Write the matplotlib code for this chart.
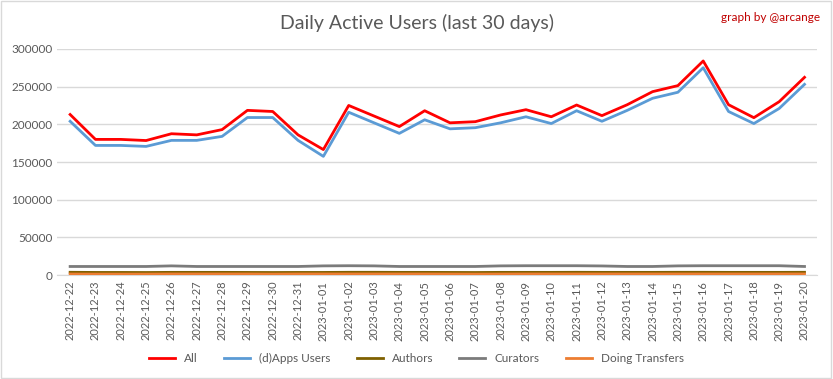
import matplotlib.pyplot as plt
import numpy as np

dates = ["2022-12-22", "2022-12-23", "2022-12-24", "2022-12-25", "2022-12-26", "2022-12-27",
         "2022-12-28", "2022-12-29", "2022-12-30", "2022-12-31", "2023-01-01", "2023-01-02",
         "2023-01-03", "2023-01-04", "2023-01-05", "2023-01-06", "2023-01-07", "2023-01-08",
         "2023-01-09", "2023-01-10", "2023-01-11", "2023-01-12", "2023-01-13", "2023-01-14",
         "2023-01-15", "2023-01-16", "2023-01-17", "2023-01-18", "2023-01-19", "2023-01-20"]

all_users = [213000, 180000, 180000, 178500, 187500, 186000, 193000, 218500, 217000, 186000,
             166500, 225000, 211000, 197000, 218000, 202000, 203500, 212400, 219400, 210000,
             225600, 211500, 226000, 243300, 251300, 284000, 226000, 208800, 230000, 262300]
apps_users = [204000, 172000, 172000, 170700, 178700, 178700, 184000, 209000, 209000, 178700,
              157500, 216000, 202000, 188000, 206000, 194000, 195500, 202000, 210000, 201000,
              218000, 204000, 218500, 234500, 242500, 275000, 217000, 201000, 221000, 253000]
authors = [3800, 3600, 3600, 3500, 3700, 3700, 3700, 3600, 3500, 3600,
           3600, 3800, 3800, 3700, 3700, 3600, 3500, 3700, 3700, 3700,
           3800, 3700, 3700, 3700, 3800, 3800, 3700, 3700, 3700, 3800]
curators = [11500, 11500, 11500, 11500, 12300, 11500, 11500, 11500, 11500, 11500,
            12300, 12500, 12300, 11500, 11500, 11500, 11500, 12300, 12500, 12500,
            12500, 12200, 11500, 11500, 12300, 12500, 12500, 12500, 12500, 11500]
transfers = [1500, 1400, 1400, 1400, 1600, 1600, 1600, 1600, 1400, 1600,
             1600, 1600, 1600, 1600, 1600, 1500, 1400, 1500, 1600, 1600,
             1600, 1600, 1600, 1600, 1600, 1600, 1600, 1600, 1600, 1600]

plt.rcParams['font.family'] = ['Lato', 'DejaVu Sans']

fig = plt.figure(figsize=(8.33, 3.79), dpi=100)
ax = fig.add_axes([0.069, 0.274, 0.912, 0.597])

x = np.arange(len(dates))
ax.plot(x, all_users, color='#FF0000', lw=2, label='All', zorder=5)
ax.plot(x, apps_users, color='#5B9BD5', lw=2, label='(d)Apps Users', zorder=4)
ax.plot(x, authors, color='#7F6000', lw=2, label='Authors', zorder=3)
ax.plot(x, curators, color='#7B7B7B', lw=2, label='Curators', zorder=3)
ax.plot(x, transfers, color='#ED7D31', lw=2, label='Doing Transfers', zorder=3)

ax.set_xlim(-0.5, len(dates) - 0.5)
ax.set_ylim(0, 300000)
ax.set_yticks(np.arange(0, 300001, 50000))
ax.set_xticks(x)
ax.set_xticklabels(dates, rotation=90, fontsize=8, color='#595959')
ax.tick_params(axis='y', labelsize=8.5, colors='#595959', length=0)
ax.tick_params(axis='x', length=0, pad=4)
ax.grid(axis='y', color='#D9D9D9', lw=1)
ax.set_axisbelow(True)
for s in ['top', 'right', 'left']:
    ax.spines[s].set_visible(False)
ax.spines['bottom'].set_color('#D9D9D9')

fig.text(0.5, 0.94, 'Daily Active Users (last 30 days)', ha='center', va='center',
         fontsize=14, color='#595959')
fig.text(0.985, 0.955, 'graph by @arcange', ha='right', va='center', fontsize=8.5, color='#C00000')

fig.legend(loc='center', bbox_to_anchor=(0.5, 0.055), ncol=5, frameon=False,
           fontsize=8.5, handlelength=2.2, columnspacing=2.2, labelcolor='#595959')

fig.patches.append(plt.Rectangle((0.001, 0.002), 0.997, 0.996, transform=fig.transFigure,
                                 fill=False, edgecolor='#D9D9D9', lw=1))

fig.savefig('out.png', dpi=100)
